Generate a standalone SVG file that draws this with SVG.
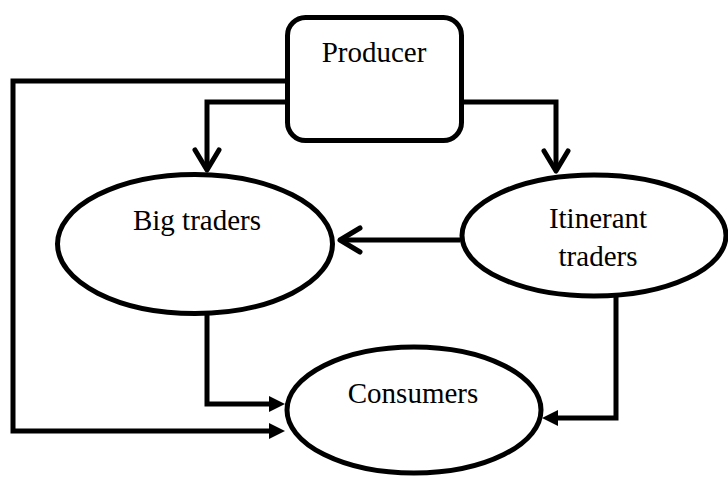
<svg xmlns="http://www.w3.org/2000/svg" width="728" height="477" viewBox="0 0 728 477">
<style>
.node{fill:#fff;stroke:#000;stroke-width:5}
.lbl{font-family:"Liberation Serif","Times New Roman",serif;font-size:29px;fill:#000;text-anchor:middle}
.edge{fill:none;stroke:#000;stroke-width:5;stroke-linejoin:miter}
</style>
<defs>
<marker id="chev" markerUnits="userSpaceOnUse" markerWidth="40" markerHeight="40" viewBox="-30 -20 40 40" refX="0" refY="0" orient="auto" overflow="visible">
<path d="M-20,-12 L0,0 L-20,12" fill="none" stroke="#000" stroke-width="5" stroke-linecap="round" stroke-linejoin="round"/>
</marker>
<marker id="tri" markerUnits="userSpaceOnUse" markerWidth="30" markerHeight="30" viewBox="-5 -15 30 30" refX="0" refY="0" orient="auto" overflow="visible">
<path d="M0,-8 L16,0 L0,8 Z" fill="#000"/>
</marker>
</defs>
<rect width="728" height="477" fill="#fff"/>
<g id="connectors">
<path class="edge" d="M287,81 H13 V431 H269" marker-end="url(#tri)"/>
<path class="edge" d="M287,102 H207 V170" marker-end="url(#chev)"/>
<path class="edge" d="M462,102 H556 V171" marker-end="url(#chev)"/>
<path class="edge" d="M460,240 H340" marker-end="url(#chev)"/>
<path class="edge" d="M207,313 V404 H269" marker-end="url(#tri)"/>
<path class="edge" d="M616,296 V418 H558" marker-end="url(#tri)"/>
</g>
<g id="producer">
<rect class="node" x="287.5" y="17.5" width="174" height="123" rx="18"/>
<text class="lbl" x="374" y="62">Producer</text>
</g>
<g id="big-traders">
<ellipse class="node" cx="195" cy="244" rx="137.5" ry="69.5"/>
<text class="lbl" x="197" y="230">Big traders</text>
</g>
<g id="itinerant-traders">
<ellipse class="node" cx="594" cy="235.5" rx="132" ry="60.5"/>
<text class="lbl" x="598" y="228">Itinerant</text>
<text class="lbl" x="598" y="266">traders</text>
</g>
<g id="consumers">
<ellipse class="node" cx="414" cy="410" rx="127" ry="63"/>
<text class="lbl" x="413" y="403">Consumers</text>
</g>
</svg>
